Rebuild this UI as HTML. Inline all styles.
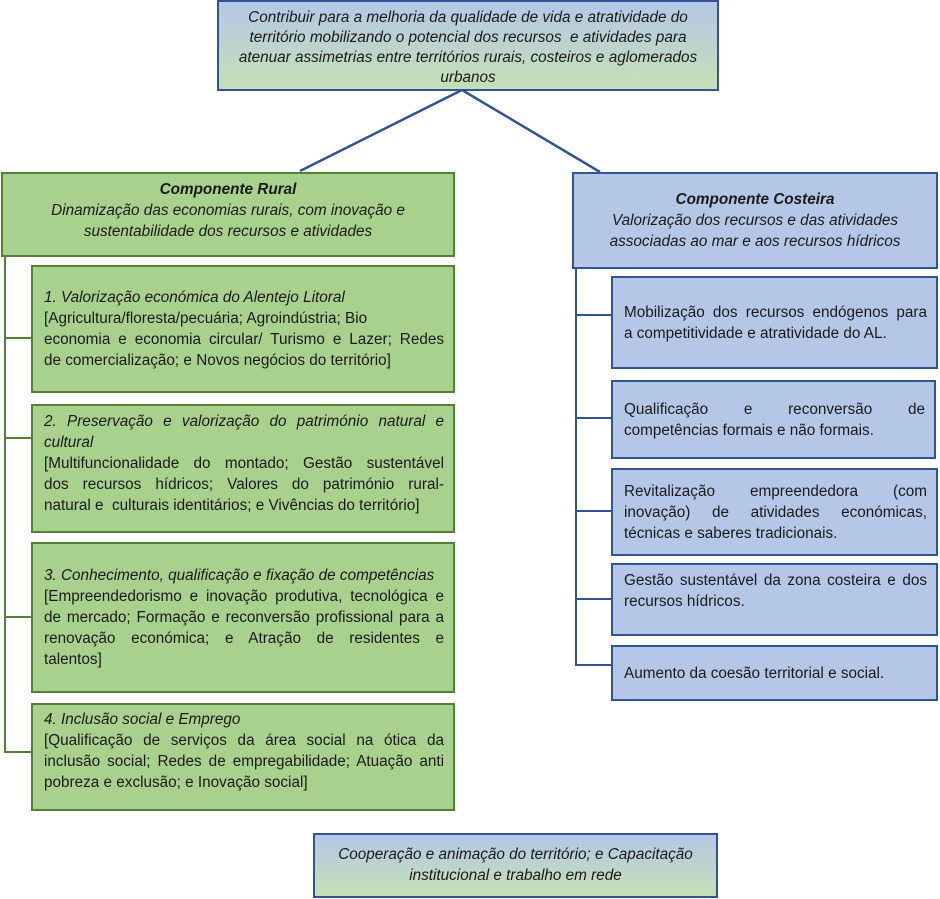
<!DOCTYPE html>
<html><head><meta charset="utf-8"><style>
body{margin:0;width:940px;height:899px;background:#fff;position:relative;font-family:"Liberation Sans",sans-serif;color:#1a1a1a;overflow:hidden}
.b{position:absolute;box-sizing:border-box;font-size:15.3px;line-height:21px}
.g{background:#a9d18e;border:2px solid #548235}
.bl{background:#b4c7e7;border:2px solid #2f5597}
.gr{background:linear-gradient(#b4c7e7,#c5e0b4);border:2px solid #2f5597;text-align:center;font-style:italic}
.c{text-align:center;font-style:italic}
.j{padding:0 9px 0 11px;display:flex;flex-direction:column;justify-content:center}
.j span{display:block;text-align:justify;text-align-last:justify;white-space:nowrap}
.j span.e{text-align-last:left}
.l{position:absolute;background:#548235}
.lb{position:absolute;background:#2f5597}
</style></head><body>
<svg style="position:absolute;left:0;top:0" width="940" height="899"><line x1="462" y1="90" x2="300" y2="171" stroke="#2f5597" stroke-width="2.5"/><line x1="462" y1="90" x2="600" y2="172" stroke="#2f5597" stroke-width="2.5"/></svg>
<div class="b gr" style="left:217px;top:0;width:502px;height:91px;padding-top:6px;font-size:15.3px;line-height:20px">Contribuir para a melhoria da qualidade de vida e atratividade do<br>território mobilizando o potencial dos recursos&nbsp; e atividades para<br>atenuar assimetrias entre territórios rurais, costeiros e aglomerados<br>urbanos</div>

<div class="b g c" style="left:1px;top:172px;width:454px;height:85px;padding-top:5px"><b>Componente Rural</b><br>Dinamização das economias rurais, com inovação e<br>sustentabilidade dos recursos e atividades</div>
<div class="l" style="left:4px;top:256px;width:2px;height:497px"></div>
<div class="l" style="left:4px;top:337px;width:28px;height:2px"></div>
<div class="l" style="left:4px;top:437px;width:28px;height:2px"></div>
<div class="l" style="left:4px;top:616px;width:28px;height:2px"></div>
<div class="l" style="left:4px;top:751px;width:28px;height:2px"></div>
<div class="b g j" style="left:31px;top:265px;width:424px;height:128px"><div><span class="e"><i>1. Valorização económica do Alentejo Litoral</i></span><span class="e">[Agricultura/floresta/pecuária; Agroindústria; Bio</span><span>economia e economia circular/ Turismo e Lazer; Redes</span><span class="e">de comercialização; e Novos negócios do território]</span></div></div>
<div class="b g j" style="left:31px;top:404px;width:424px;height:129px;justify-content:flex-start;padding-top:5px"><div><span><i>2. Preservação e valorização do património natural e</i></span><span class="e"><i>cultural</i></span><span>[Multifuncionalidade do montado; Gestão sustentável</span><span>dos recursos hídricos; Valores do património rural-</span><span class="e">natural e&nbsp; culturais identitários; e Vivências do território]</span></div></div>
<div class="b g j" style="left:31px;top:542px;width:424px;height:151px"><div><span class="e"><i>3. Conhecimento, qualificação e fixação de competências</i></span><span>[Empreendedorismo e inovação produtiva, tecnológica e</span><span>de mercado; Formação e reconversão profissional para a</span><span>renovação económica; e Atração de residentes e</span><span class="e">talentos]</span></div></div>
<div class="b g j" style="left:31px;top:703px;width:424px;height:108px;justify-content:flex-start;padding-top:4px"><div><span class="e"><i>4. Inclusão social e Emprego</i></span><span>[Qualificação de serviços da área social na ótica da</span><span>inclusão social; Redes de empregabilidade; Atuação anti</span><span class="e">pobreza e exclusão; e Inovação social]</span></div></div>

<div class="b bl c" style="left:572px;top:172px;width:366px;height:97px;padding-top:15px"><b>Componente Costeira</b><br>Valorização dos recursos e das atividades<br>associadas ao mar e aos recursos hídricos</div>
<div class="lb" style="left:575px;top:268px;width:2px;height:398px"></div>
<div class="lb" style="left:575px;top:314px;width:37px;height:2px"></div>
<div class="lb" style="left:575px;top:417px;width:37px;height:2px"></div>
<div class="lb" style="left:575px;top:510px;width:37px;height:2px"></div>
<div class="lb" style="left:575px;top:598px;width:37px;height:2px"></div>
<div class="lb" style="left:575px;top:664px;width:37px;height:2px"></div>
<div class="b bl j" style="left:611px;top:276px;width:327px;height:93px"><div><span>Mobilização dos recursos endógenos para</span><span class="e">a competitividade e atratividade do AL.</span></div></div>
<div class="b bl j" style="left:611px;top:380px;width:325px;height:79px"><div><span>Qualificação e reconversão de</span><span class="e">competências formais e não formais.</span></div></div>
<div class="b bl j" style="left:611px;top:468px;width:327px;height:88px"><div><span>Revitalização empreendedora (com</span><span>inovação) de atividades económicas,</span><span class="e">técnicas e saberes tradicionais.</span></div></div>
<div class="b bl j" style="left:611px;top:563px;width:327px;height:73px;justify-content:flex-start;padding-top:5px"><div><span>Gestão sustentável da zona costeira e dos</span><span class="e">recursos hídricos.</span></div></div>
<div class="b bl j" style="left:611px;top:645px;width:327px;height:56px"><div><span class="e">Aumento da coesão territorial e social.</span></div></div>

<div class="b gr" style="left:313px;top:833px;width:405px;height:65px;padding-top:9px">Cooperação e animação do território; e Capacitação<br>institucional e trabalho em rede</div>
</body></html>
